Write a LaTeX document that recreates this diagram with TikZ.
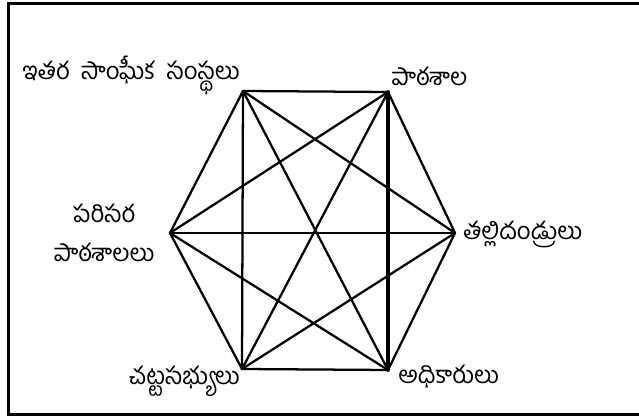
\documentclass[tikz,border=0pt]{standalone}
\usepackage{fontspec}
\newfontfamily\telugu[Script=Telugu]{Hind Guntur}
\usepackage{tikz}
\tikzset{
  edge/.style={
    line width=1.7pt,
    line cap=round,
  },
  frame/.style={
    line width=1.6pt,
  },
  lbl/.style={
    inner sep=0pt,
    font=\telugu\fontsize{18}{20}\selectfont
  }
}
\begin{document}
\begin{tikzpicture}[x=0.75pt,y=-0.75pt]
        \useasboundingbox (0,0) rectangle (639,416);
        \draw[frame] (642,3.5)--(8.5,3.5)--(8.5,414.5)--(642,414.5);
        % corners of the hexagon
        \coordinate (oth) at (243,91);
        \coordinate (sch) at (388,92);
        \coordinate (par) at (455,233);
        \coordinate (off) at (388,370);
        \coordinate (leg) at (242,369);
        \coordinate (env) at (170,233);
        %
        \foreach \a/\b in {oth/sch,sch/par,par/off,off/leg,leg/env,env/oth,
                           oth/par,oth/off,oth/leg,sch/env,sch/leg,env/par,
                           env/off,par/leg}
          \draw[edge] (\a)--(\b);
        \draw[edge,line width=2.8pt] (sch)--(off);
        %
        \node[lbl,anchor=east] (othl) at (240,75) {ఇతర\ \ సాంఘీక\ \ సంస్థలు};
        \node[lbl,anchor=west] (schl) at (391,76) {పాఠశాల};
        \node[lbl,anchor=west] (parl) at (463,234) {తల్లిదండ్రులు};
        \node[lbl,anchor=west] (offl) at (398,377) {అధికారులు};
        \node[lbl,anchor=east] (legl) at (240,381) {చట్టసభ్యులు};
        \node[lbl,align=center] (envl) at (104,233) {పరిసర\\[9pt]పాఠశాలలు};
    \end{tikzpicture}
\end{document}
